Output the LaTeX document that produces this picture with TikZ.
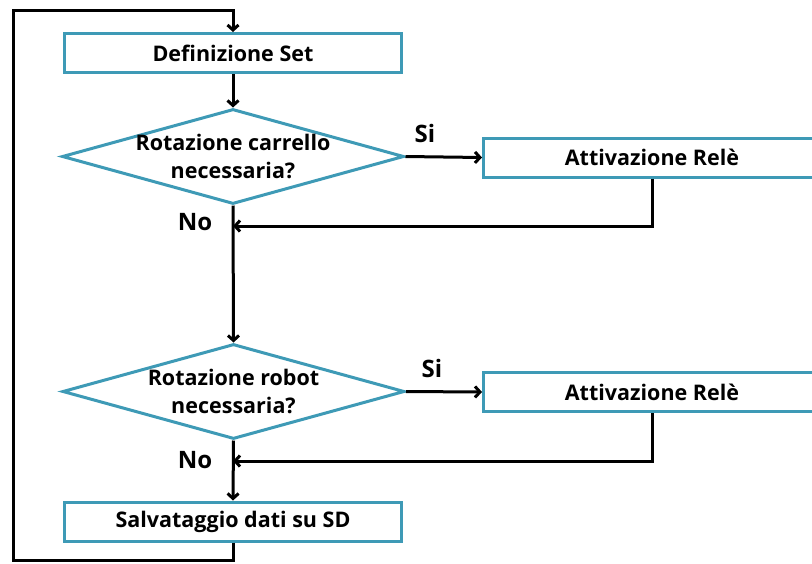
\documentclass[tikz,border=0pt]{standalone}
\usepackage{fontspec}
\setmainfont{Open Sans}
\usetikzlibrary{arrows.meta,shapes.geometric}
\definecolor{BluBlocco}{RGB}{62,154,182}

\begin{document}
\begin{tikzpicture}[x=10pt,y=-10pt,>={Straight Barb[length=5pt,width=11pt]},line width=3pt,
  blocco/.style={draw=BluBlocco,line width=3pt,minimum width=337pt,minimum height=39pt,inner sep=0pt,font=\bfseries\fontsize{21.5}{25}\selectfont},
  scelta/.style={diamond,draw=BluBlocco,line width=3pt,minimum width=342pt,minimum height=95pt,inner sep=0pt},
  testo/.style={align=center,font=\bfseries\fontsize{21.5}{28}\selectfont},
  esito/.style={font=\bfseries\fontsize{24}{28}\selectfont}]
  \useasboundingbox (0,0) rectangle (81.2,56.3);
  % blocchi
  \node[blocco] (def) at (23.3,5.3) {Definizione Set};
  \node[scelta,label={[testo]center:Rotazione carrello\\necessaria?}] (d1) at (23.3,15.65) {};
  \node[blocco] (rele1) at (65.2,15.75) {Attivazione Relè};
  \node[scelta,label={[testo]center:Rotazione robot\\necessaria?}] (d2) at (23.35,39.15) {};
  \node[blocco] (rele2) at (65.2,39.2) {Attivazione Relè};
  \node[blocco] (salva) at (23.3,52.15) {Salvataggio dati su SD};
  % etichette
  \node[esito] (si1) at (42.5,13.3) {Si};
  \node[esito] (no1) at (19.5,22.2) {No};
  \node[esito] (si2) at (43.2,36.8) {Si};
  \node[esito] (no2) at (19.5,46.0) {No};
  % punti di rientro
  \coordinate (m1) at (23.3,22.6);
  \coordinate (m2) at (23.3,46.1);
  \coordinate (basso) at (1.3,56.0);
  \coordinate (alto) at (1.3,1.0);
  % collegamenti
  \draw[->] (def.south) -- (d1.north);
  \draw[->] (d1.east) -- (rele1.west);
  \draw[->] (rele1.south) |- (m1);
  \draw[->] (d1.south) -- (d2.north);
  \draw[->] (d2.east) -- (rele2.west);
  \draw[->] (rele2.south) |- (m2);
  \draw[->] (d2.south) -- (salva.north);
  \draw[->] (salva.south) |- (basso) -- (alto) -| (def.north);
\end{tikzpicture}
\end{document}
